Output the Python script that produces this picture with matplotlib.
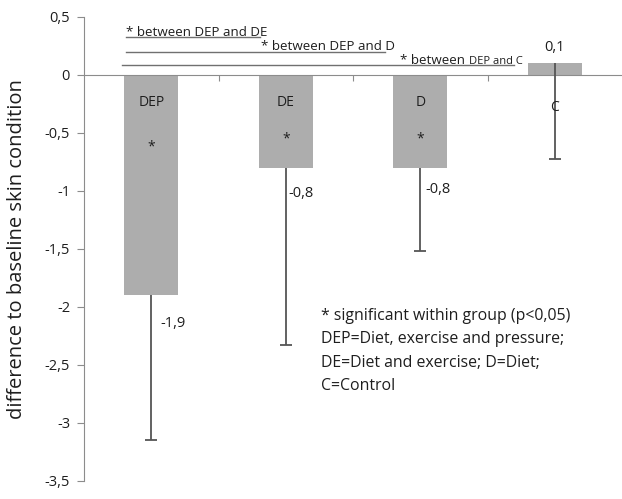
import numpy as np
import matplotlib.pyplot as plt

#### data

groups = ['DEP', 'DE', 'D', 'C']
means = [-1.9, -0.8, -0.8, 0.1]
err_low = [1.25, 1.53, 0.72, 0.82]
value_labels = ['-1,9', '-0,8', '-0,8', '0,1']
within_sig = [True, True, True, False]
yticks = [0.5, 0, -0.5, -1, -1.5, -2, -2.5, -3, -3.5]
ytick_labels = ['0,5', '0', '-0,5', '-1', '-1,5', '-2', '-2,5', '-3', '-3,5']
comparisons = ['DE', 'D', 'C']
note_lines = ['* significant within group (p<0,05)',
              'DEP=Diet, exercise and pressure;',
              'DE=Diet and exercise; D=Diet;',
              'C=Control']

#### figure

plt.rcParams['font.family'] = ['Open Sans', 'DejaVu Sans']
txt = '#1e1e1e'
axis_grey = '#8c8c8c'

fig = plt.figure(figsize=(6.22, 4.99), dpi=100)
ax = fig.add_axes([84 / 622, 18 / 499, 538 / 622, 464 / 499])

x = np.arange(len(groups))
ax.bar(x, means, width=0.4, color='#adadad', zorder=2)

# only the lower half of the error bars is drawn
_, caps, _ = ax.errorbar(x, means, yerr=[err_low, [0] * len(x)], fmt='none',
                         ecolor='#555555', elinewidth=1.3, capsize=4,
                         capthick=1.3, zorder=3)
caps[1].set_visible(False)

ax.set_xlim(-0.5, 3.5)
ax.set_ylim(-3.5, 0.5)

# axes styling (excel look)
for s in ['top', 'right']:
    ax.spines[s].set_visible(False)
ax.spines['left'].set_color(axis_grey)
ax.spines['bottom'].set_color(axis_grey)
ax.spines['bottom'].set_position(('data', 0))
ax.set_xticks([0.5, 1.5, 2.5])
ax.set_xticklabels([])
ax.tick_params(axis='x', direction='out', length=4, color=axis_grey)
ax.set_yticks(yticks)
ax.set_yticklabels(ytick_labels, fontsize=10.5, color=txt)
ax.tick_params(axis='y', direction='out', length=5, color=axis_grey, pad=5)
ax.set_ylabel('difference to baseline skin condition', fontsize=14.5, color=txt)
ax.yaxis.set_label_coords(-0.106, 0.5)

# labels inside / next to the bars
for i, g in enumerate(groups):
    gy = -0.28 if g == 'C' else -0.24
    ax.text(i, gy, g, ha='center', va='center', fontsize=10, color=txt, zorder=4)
    if within_sig[i]:
        sy = -0.62 if i == 0 else -0.55
        ax.text(i, sy, '*', ha='center', va='center', fontsize=10, color=txt)

ax.text(0 + 0.07, -2.14, value_labels[0], ha='left', va='center', fontsize=10.5, color=txt)
ax.text(1 + 0.02, -1.02, value_labels[1], ha='left', va='center', fontsize=10.5, color=txt)
ax.text(2 + 0.035, -0.99, value_labels[2], ha='left', va='center', fontsize=10.5, color=txt)
ax.text(3, 0.24, value_labels[3], ha='center', va='center', fontsize=10.5, color=txt)

# between-group comparison brackets
line_y = [0.324, 0.2, 0.083]
line_x = [(-0.19, 0.81), (-0.185, 1.74), (-0.215, 2.70)]
text_x = [-0.19, 0.815, 1.85]
text_y = [0.338, 0.214, 0.097]
for k, other in enumerate(comparisons):
    ax.plot(line_x[k], [line_y[k]] * 2, color='#707070', lw=1, clip_on=False)
    if other == 'C':
        # last one was typed with a smaller font for "DEP and C"
        t = ax.text(text_x[k], text_y[k], '* between ', ha='left',
                    va='baseline', fontsize=9.6, color=txt)
        ax.annotate(f'DEP and {other}', xy=(1, 0), xycoords=t, ha='left',
                    va='bottom', fontsize=8, color=txt)
    else:
        ax.text(text_x[k], text_y[k], f'* between DEP and {other}', ha='left',
                va='baseline', fontsize=9.6, color=txt)

# note
for k, line in enumerate(note_lines):
    ax.text(1.26, -2.08 - k * 0.2, line, ha='left', va='center', fontsize=11.4,
            color=txt)

fig.savefig('out.png', dpi=100)
